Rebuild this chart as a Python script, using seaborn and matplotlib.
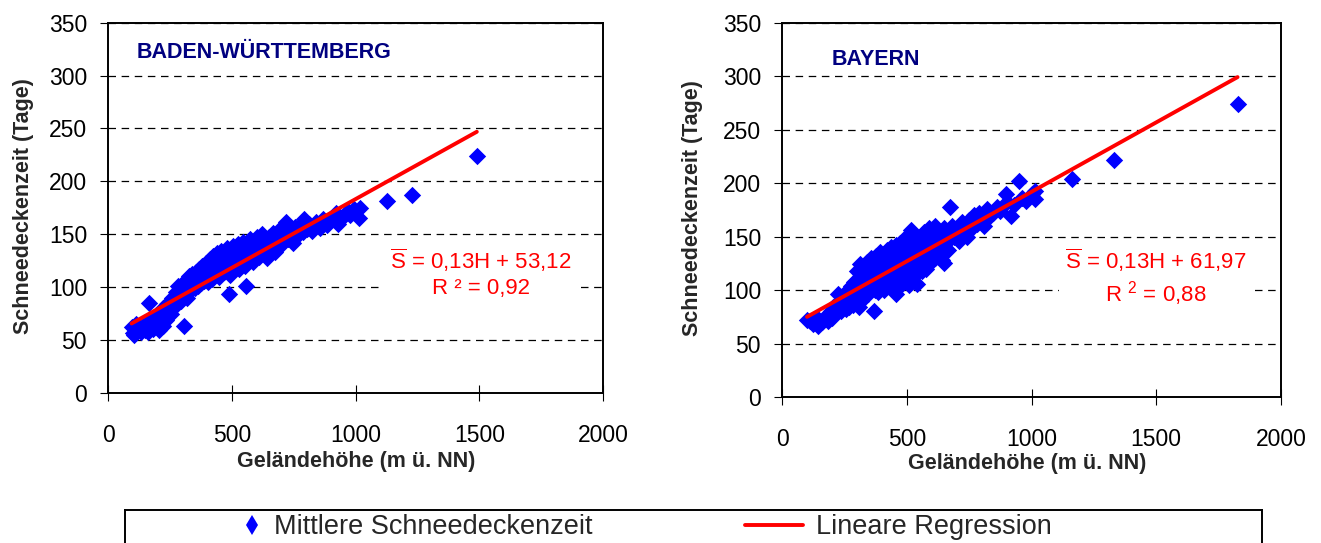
import matplotlib
matplotlib.use("Agg")
import matplotlib.pyplot as plt
import pandas as pd
import seaborn as sns
from matplotlib.lines import Line2D

# Mean snow-cover duration (days) against terrain height (m a.s.l.), per station
bw_hoehe = [95, 100, 103, 108, 112, 118, 125, 132, 140, 148, 155, 160, 165, 170, 176, 182,
            188, 194, 200, 205, 210, 214, 220, 224, 230, 234, 240, 245, 250, 256, 260, 264,
            270, 274, 280, 284, 288, 294, 300, 305, 308, 312, 318, 322, 326, 332, 336, 340,
            346, 350, 354, 358, 362, 366, 370, 374, 378, 382, 386, 390, 394, 398, 402, 406,
            410, 414, 418, 422, 426, 430, 434, 438, 442, 446, 450, 454, 458, 462, 466, 470,
            474, 478, 482, 486, 488, 492, 496, 500, 504, 508, 512, 516, 520, 524, 528, 532,
            536, 540, 544, 548, 552, 556, 560, 566, 572, 578, 584, 590, 596, 602, 608, 614,
            620, 628, 636, 644, 652, 660, 668, 676, 684, 692, 700, 710, 718, 726, 736, 746,
            756, 766, 776, 786, 792, 802, 812, 826, 840, 856, 868, 884, 900, 921, 929, 950,
            968, 977, 992, 1012, 1019, 1128, 1228, 1490]
bw_tage = [62, 56, 55, 60, 65, 58, 61, 57, 63, 59, 62, 57, 85, 69, 64, 60,
           72, 66, 62, 59, 75, 68, 63, 80, 73, 69, 84, 77, 81, 74, 90, 80,
           88, 95, 84, 101, 92, 87, 98, 63, 105, 95, 90, 103, 110, 96, 101, 112,
           104, 99, 114, 107, 101, 117, 109, 104, 120, 112, 106, 118, 123, 110, 105, 116,
           126, 112, 120, 108, 129, 117, 112, 124, 132, 115, 109, 122, 134, 119, 127, 114,
           130, 121, 137, 126, 93, 111, 132, 124, 139, 118, 128, 134, 122, 141, 117, 130,
           136, 125, 143, 131, 120, 101, 135, 128, 145, 133, 124, 140, 132, 147, 128, 138,
           150, 134, 143, 127, 147, 138, 151, 133, 145, 154, 140, 150, 161, 145, 153, 142,
           157, 149, 158, 152, 164, 155, 160, 153, 161, 156, 164, 159, 163, 170, 160, 166,
           172, 168, 174, 165, 175, 181, 187, 224]

by_hoehe = [100, 112, 125, 140, 146, 160, 175, 186, 195, 200, 205, 210, 216, 220, 226, 230,
            235, 240, 245, 250, 255, 258, 262, 265, 270, 272, 275, 280, 283, 285, 290, 292,
            295, 298, 300, 302, 305, 308, 310, 313, 315, 318, 320, 322, 325, 328, 330, 333,
            335, 338, 340, 343, 345, 348, 350, 352, 355, 358, 360, 362, 365, 367, 370, 372,
            375, 378, 380, 383, 385, 388, 390, 393, 395, 398, 400, 403, 405, 408, 410, 412,
            415, 418, 420, 423, 425, 428, 430, 433, 435, 438, 440, 443, 445, 448, 450, 453,
            455, 458, 460, 463, 465, 468, 470, 473, 475, 478, 480, 483, 485, 488, 490, 493,
            495, 498, 500, 503, 505, 507, 510, 513, 515, 518, 520, 523, 525, 528, 530, 533,
            535, 538, 541, 543, 545, 548, 550, 553, 555, 558, 560, 563, 565, 568, 570, 575,
            578, 580, 585, 588, 590, 595, 598, 600, 605, 610, 612, 615, 620, 625, 630, 635,
            640, 645, 648, 650, 655, 660, 665, 672, 675, 680, 690, 700, 710, 720, 730, 740,
            750, 760, 770, 780, 790, 800, 810, 820, 830, 845, 860, 875, 896, 900, 916, 930,
            949, 960, 976, 1000, 1016, 1016, 1163, 1331, 1826]
by_tage = [72, 71, 68, 74, 66, 70, 76, 71, 80, 74, 84, 78, 86, 82, 96, 88,
           80, 92, 85, 90, 82, 96, 88, 100, 84, 94, 104, 90, 98, 86, 108, 95,
           88, 102, 118, 92, 110, 84, 98, 124, 106, 90, 114, 100, 94, 120, 108, 98,
           112, 104, 126, 96, 116, 108, 122, 100, 114, 130, 104, 118, 110, 80.5, 124, 100,
           116, 132, 108, 120, 98, 128, 112, 136, 104, 120, 130, 110, 124, 100, 134, 116,
           106, 128, 138, 112, 122, 104, 132, 118, 140, 108, 126, 114, 136, 120, 102, 130,
           96, 142, 118, 126, 110, 134, 122, 144, 114, 130, 106, 138, 124, 148, 116, 132,
           110, 142, 126, 150, 118, 105, 136, 128, 156, 120, 140, 112, 132, 146, 124, 152,
           116, 138, 105.5, 130, 144, 122, 136, 150, 126, 140, 118, 146, 132, 154, 128, 142,
           120, 136, 150, 130, 158, 140, 126, 148, 136, 152, 130, 160, 144, 138, 154, 142,
           128, 150, 125.7, 158, 144, 152, 138, 178, 148, 160, 150, 156, 146, 164, 154, 150,
           166, 158, 170, 162, 172, 166, 160, 176, 168, 172, 178, 174, 190, 182, 169, 180,
           202, 186, 183, 190, 185, 193, 204, 222, 274.5]

# Linear regressions as printed on each panel: S = slope * H + intercept
bw_slope, bw_intercept, bw_r2 = 0.13, 53.12, 0.92
by_slope, by_intercept, by_r2 = 0.13, 61.97, 0.88

regions = ["BADEN-WÜRTTEMBERG", "BAYERN"]
x_ticks = [0, 500, 1000, 1500, 2000]
y_ticks = [0, 50, 100, 150, 200, 250, 300, 350]
legend_labels = ["Mittlere Schneedeckenzeit", "Lineare Regression"]

sns.set_style("white")
plt.rcParams["font.family"] = ["Liberation Sans", "DejaVu Sans"]
plt.rcParams["mathtext.fontset"] = "custom"
plt.rcParams["mathtext.rm"] = "Liberation Sans"
plt.rcParams["mathtext.it"] = "Liberation Sans:italic"
plt.rcParams["mathtext.bf"] = "Liberation Sans:bold"

BLUE = "#0000FF"
RED = "#FF0000"
NAVY = "#000080"

fig = plt.figure(figsize=(13.21, 5.43), dpi=100)
ax_bw = fig.add_axes([0.0818, 0.2768, 0.3747, 0.6814])
ax_by = fig.add_axes([0.5920, 0.2689, 0.3777, 0.6888])


def draw_panel(ax, hoehe, tage, slope, intercept, r2_text, title, title_xy,
               eq_xy, ylabel_x, xlabel_xy):
    pts = pd.DataFrame({"H": hoehe, "S": tage})
    sns.scatterplot(data=pts, x="H", y="S", ax=ax, marker="D", s=78,
                    color=BLUE, linewidth=0, legend=False, zorder=3)

    fit = pd.DataFrame({"H": [min(hoehe), max(hoehe)]})
    fit["S"] = slope * fit["H"] + intercept
    sns.lineplot(data=fit, x="H", y="S", ax=ax, color=RED, lw=2.8,
                 legend=False, zorder=4)

    ax.set_xlim(0, 2000)
    ax.set_ylim(0, 350)
    ax.set_xticks(x_ticks)
    ax.set_yticks(y_ticks)
    ax.grid(axis="y", color="black", lw=0.9, ls=(0, (6, 4.5)), zorder=1)
    ax.grid(axis="x", visible=False)
    ax.set_axisbelow(True)

    for sp in ax.spines.values():
        sp.set_visible(True)
        sp.set_color("black")
        sp.set_linewidth(1.4)
        sp.set_zorder(6)

    ax.tick_params(axis="x", direction="inout", length=11.5, width=0.8,
                   pad=16.5, labelsize=16.5, colors="black", bottom=True)
    ax.tick_params(axis="y", direction="out", length=5.8, width=0.8,
                   pad=9.3, labelsize=16.5, colors="black", left=True)

    ax.set_xlabel("Geländehöhe (m ü. NN)", fontsize=15.5, fontweight="bold")
    ax.set_ylabel("Schneedeckenzeit (Tage)", fontsize=15.5, fontweight="bold")
    ax.xaxis.set_label_coords(*xlabel_xy)
    ax.yaxis.set_label_coords(ylabel_x, 0.505)

    ax.text(title_xy[0], title_xy[1], title, transform=ax.transAxes,
            ha="left", va="center", fontsize=15.5, fontweight="bold", color=NAVY)

    eq = (r"$\overline{\mathrm{S}}$" + f" = {slope:.2f}H + {intercept:.2f}".replace(".", ",")
          + "\n" + r2_text)
    ax.text(eq_xy[0], eq_xy[1], eq, ha="center", va="center", fontsize=16,
            color=RED, linespacing=1.25, zorder=5,
            bbox=dict(facecolor="white", edgecolor="none", pad=4))


draw_panel(ax_bw, bw_hoehe, bw_tage, bw_slope, bw_intercept,
           "R ² = " + f"{bw_r2:.2f}".replace(".", ","),
           regions[0], (0.0586, 0.919), (1505, 113), -0.149, (0.502, -0.158))
draw_panel(ax_by, by_hoehe, by_tage, by_slope, by_intercept,
           r"R $^{\mathrm{2}}$ = " + f"{by_r2:.2f}".replace(".", ","),
           regions[1], (0.100, 0.901), (1497, 112), -0.158, (0.491, -0.150))

# Legend frame running off the bottom edge
ax_leg = fig.add_axes([125 / 1321, -0.2, 1137 / 1321, 0.2 + 33 / 543])
ax_leg.set_xticks([])
ax_leg.set_yticks([])
ax_leg.set_facecolor("white")
for sp in ax_leg.spines.values():
    sp.set_visible(True)
    sp.set_color("black")
    sp.set_linewidth(1.4)

marker_handle = Line2D([], [], marker="d", ls="none", color=BLUE, markersize=10,
                       markeredgewidth=0)
line_handle = Line2D([], [], color=RED, lw=2.8)
y_leg = 1 - 527 / 543
leg1 = fig.legend([marker_handle], [legend_labels[0]], loc="center left",
                  bbox_to_anchor=(238 / 1321, y_leg), frameon=False, fontsize=19.5,
                  handlelength=1.0, handletextpad=0.33, borderpad=0, borderaxespad=0)
leg2 = fig.legend([line_handle], [legend_labels[1]], loc="center left",
                  bbox_to_anchor=(745 / 1321, y_leg), frameon=False, fontsize=19.5,
                  handlelength=2.16, handletextpad=0.47, borderpad=0, borderaxespad=0)

fig.savefig("out.png", dpi=100)
